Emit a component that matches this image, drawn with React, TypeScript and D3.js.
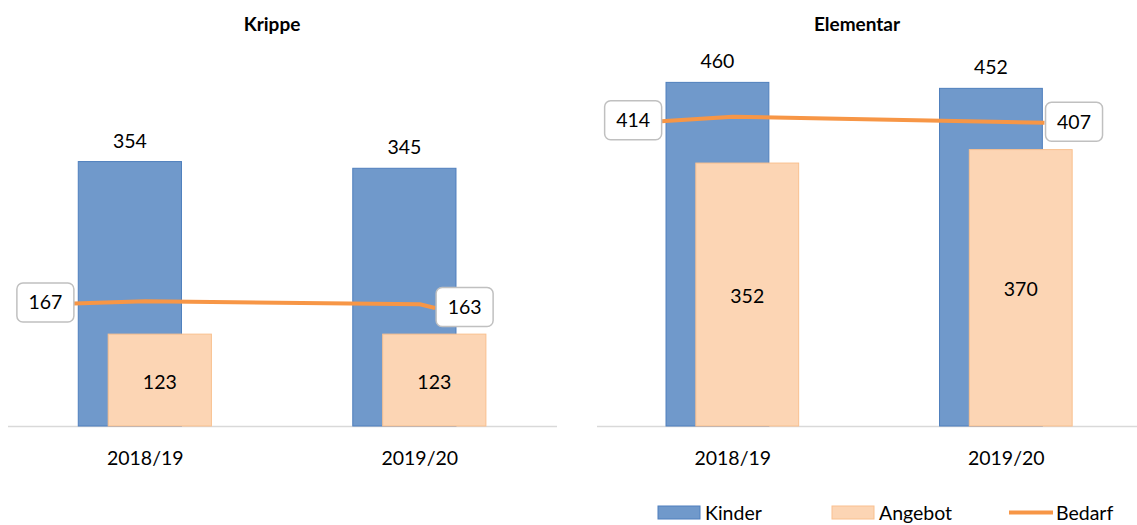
import React from "react";
import * as d3 from "d3";

// ---- data ----
const categories = ["2018/19", "2019/20"];
const chartTitles = ["Krippe", "Elementar"];
const krippeKinder = [354, 345];
const krippeAngebot = [123, 123];
const krippeBedarf = [167, 163];
const elementarKinder = [460, 452];
const elementarAngebot = [352, 370];
const elementarBedarf = [414, 407];
// values where the Bedarf line ends beside its labels
const krippeBedarfEnds = [164, 158];
const elementarBedarfEnds = [408, 406];
const legendLabels = ["Kinder", "Angebot", "Bedarf"];

const W = 1137;
const H = 525;
const FONT = "Lato, 'Open Sans', sans-serif";
const FS = 19.5;
const KINDER_FILL = "#7099CB";
const KINDER_STROKE = "#4F7FBD";
const ANGEBOT_FILL = "#FCD5B4";
const ANGEBOT_STROKE = "#F9C08F";
const BEDARF = "#F79646";
const AXIS = "#D9D9D9";

const baseY = 426;
const y = d3.scaleLinear().domain([0, 500]).range([baseY, baseY - 500 * 0.747]);

type ChartCfg = {
  title: string;
  kinder: number[];
  angebot: number[];
  bedarf: number[];
  ends: number[];
  range: [number, number];
  axis: [number, number];
  titleX: number;
  endPos: [number, number];
};

const charts: ChartCfg[] = [
  {
    title: chartTitles[0],
    kinder: krippeKinder,
    angebot: krippeAngebot,
    bedarf: krippeBedarf,
    ends: krippeBedarfEnds,
    range: [8, 557],
    axis: [8, 557],
    titleX: 272,
    endPos: [-0.26, 1.056],
  },
  {
    title: chartTitles[1],
    kinder: elementarKinder,
    angebot: elementarAngebot,
    bedarf: elementarBedarf,
    ends: elementarBedarfEnds,
    range: [596, 1143],
    axis: [597, 1137],
    titleX: 857,
    endPos: [-0.26, 1.14],
  },
];

function Chart({ c }: { c: ChartCfg }) {
  const x = d3.scaleBand<string>().domain(categories).range(c.range).padding(0);
  const bw = x.bandwidth();
  const center = (cat: string) => (x(cat) as number) + bw / 2;
  const barW = 0.376 * bw;
  const kOff = -0.244 * bw;
  const aOff = -0.135 * bw;
  const idx = d3
    .scaleLinear()
    .domain([0, 1])
    .range([center(categories[0]), center(categories[1])]);

  const pts: [number, number][] = [
    [idx(c.endPos[0]), y(c.ends[0])],
    [idx(0), y(c.bedarf[0])],
    [idx(1), y(c.bedarf[1])],
    [idx(c.endPos[1]), y(c.ends[1])],
  ];
  const line = d3.line<[number, number]>()(pts) as string;
  const boxW = 57;
  const boxH = 39;

  return (
    <g>
      <text
        x={c.titleX}
        y={31}
        textAnchor="middle"
        fontFamily={FONT}
        fontWeight={700}
        fontSize={19}
        fill="#000"
      >
        {c.title}
      </text>
      <line x1={c.axis[0]} x2={c.axis[1]} y1={baseY + 0.5} y2={baseY + 0.5} stroke={AXIS} strokeWidth={1.5} />
      {categories.map((cat, i) => (
        <g key={"k" + cat}>
          <rect
            x={center(cat) + kOff}
            y={y(c.kinder[i])}
            width={barW}
            height={baseY - y(c.kinder[i])}
            fill={KINDER_FILL}
            stroke={KINDER_STROKE}
            strokeWidth={1}
          />
          <text
            x={center(cat) + kOff + barW / 2}
            y={y(c.kinder[i]) - 14}
            textAnchor="middle"
            fontFamily={FONT}
            fontSize={FS}
            fill="#000"
          >
            {c.kinder[i]}
          </text>
        </g>
      ))}
      {categories.map((cat, i) => (
        <g key={"a" + cat}>
          <rect
            x={center(cat) + aOff}
            y={y(c.angebot[i])}
            width={barW}
            height={baseY - y(c.angebot[i])}
            fill={ANGEBOT_FILL}
            stroke={ANGEBOT_STROKE}
            strokeWidth={1}
          />
          <text
            x={center(cat) + aOff + barW / 2}
            y={(y(c.angebot[i]) + baseY) / 2 + 8.5}
            textAnchor="middle"
            fontFamily={FONT}
            fontSize={FS}
            fill="#000"
          >
            {c.angebot[i]}
          </text>
        </g>
      ))}
      {categories.map((cat) => (
        <text
          key={"c" + cat}
          x={center(cat)}
          y={465}
          textAnchor="middle"
          fontFamily={FONT}
          fontSize={FS}
          fill="#000"
        >
          {cat}
        </text>
      ))}
      <path d={line} fill="none" stroke={BEDARF} strokeWidth={4} strokeLinejoin="round" strokeLinecap="butt" />
      {[0, 1].map((j) => {
        const [px, py] = pts[j === 0 ? 0 : 3];
        const bx = j === 0 ? px - boxW : px + 1;
        const cy = py - 1;
        return (
          <g key={"b" + j}>
            <rect
              x={bx}
              y={cy - boxH / 2}
              width={boxW}
              height={boxH}
              rx={6}
              fill="#fff"
              stroke="#C0C0C0"
              strokeWidth={1.5}
            />
            <text
              x={bx + boxW / 2}
              y={cy + 7}
              textAnchor="middle"
              fontFamily={FONT}
              fontSize={FS}
              fill="#000"
            >
              {c.bedarf[j]}
            </text>
          </g>
        );
      })}
    </g>
  );
}

function Legend() {
  const items = [
    { x: 658, kind: "rect", fill: KINDER_FILL, stroke: KINDER_STROKE },
    { x: 832, kind: "rect", fill: ANGEBOT_FILL, stroke: ANGEBOT_STROKE },
    { x: 1009, kind: "line", fill: BEDARF, stroke: BEDARF },
  ];
  return (
    <g>
      {items.map((it, i) => (
        <g key={legendLabels[i]}>
          {it.kind === "rect" ? (
            <rect x={it.x} y={506} width={42} height={13} fill={it.fill} stroke={it.stroke} strokeWidth={1} />
          ) : (
            <line x1={it.x} x2={it.x + 44} y1={512.5} y2={512.5} stroke={it.stroke} strokeWidth={4} />
          )}
          <text x={it.x + 47} y={520} fontFamily={FONT} fontSize={FS} fill="#000">
            {legendLabels[i]}
          </text>
        </g>
      ))}
    </g>
  );
}

export default function App() {
  return (
    <svg
      width={W}
      height={H}
      viewBox={`0 0 ${W} ${H}`}
      style={{ position: "fixed", left: 0, top: 0, background: "#fff" }}
    >
      <rect x={0} y={0} width={W} height={H} fill="#fff" />
      {charts.map((c) => (
        <Chart key={c.title} c={c} />
      ))}
      <Legend />
    </svg>
  );
}
